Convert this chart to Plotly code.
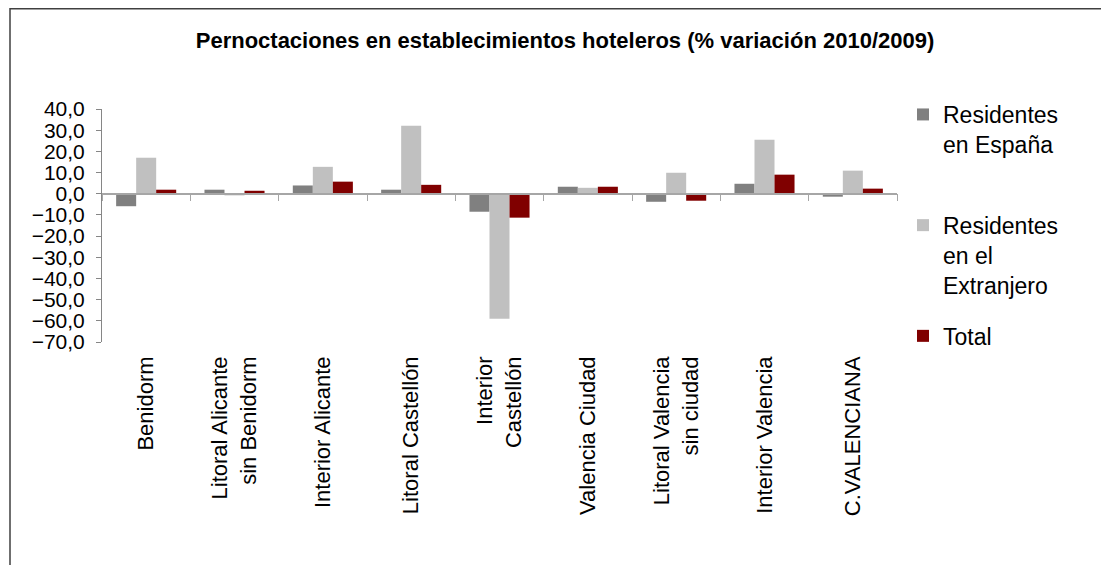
import plotly.graph_objects as go

categories = ["Benidorm", "Litoral Alicante<br>sin Benidorm", "Interior Alicante",
              "Litoral Castellón", "Interior<br>Castellón", "Valencia Ciudad",
              "Litoral Valencia<br>sin ciudad", "Interior Valencia", "C.VALENCIANA"]
residentes_espana = [-5.9, 1.9, 3.9, 1.9, -8.5, 3.3, -3.8, 4.7, -1.4]
residentes_extranjero = [17.0, -0.8, 12.7, 32.1, -59.0, 2.8, 9.9, 25.5, 10.9]
total = [1.9, 1.4, 5.7, 4.2, -11.3, 3.3, -3.3, 9.0, 2.4]
series_names = ["Residentes<br>en España<br>\u00a0", "Residentes<br>en el<br>Extranjero", "Total"]
series_colors = ["#808080", "#C0C0C0", "#800000"]
y_ticks = [40, 30, 20, 10, 0, -10, -20, -30, -40, -50, -60, -70]

# page has an 8px body margin: figure coordinates = page coordinates - 8
OFF = 8
W, H = 1109 - OFF, 565 - OFF
L, T = 102 - OFF, 109 - OFF
PR, PB = 897 - OFF, 342 - OFF
R, B = W - PR, H - PB
pw, ph = PR - L, PB - T

fig = go.Figure()
for name, vals, col, grp in zip(series_names,
                                [residentes_espana, residentes_extranjero, total],
                                series_colors, ["a", "b", "c"]):
    fig.add_trace(go.Bar(x=categories, y=vals, name=name, marker_color=col,
                         marker_line_width=0, legendgroup=grp))

# helper trace for the zero-line category axis
fig.add_trace(go.Scatter(x=categories, y=[0] * len(categories), xaxis="x2",
                         mode="none", showlegend=False, hoverinfo="skip"))

ymin, ymax = -70, 40
fig.update_layout(
    width=W, height=H,
    margin=dict(l=L, r=R, t=T, b=B, autoexpand=False),
    paper_bgcolor="white", plot_bgcolor="white",
    separators=",.",
    barmode="group", bargap=0.32, bargroupgap=0,
    font=dict(family="Liberation Sans, Arial, sans-serif", color="black"),
    title=dict(text="<b>Pernoctaciones en establecimientos hoteleros (% variación 2010/2009)</b>",
               x=(565 - OFF) / W, xanchor="center", y=1 - (40 - OFF) / H, yanchor="middle",
               font=dict(size=22, color="black")),
    xaxis=dict(categoryorder="array", categoryarray=categories, range=[-0.5, 8.5],
               showline=False, ticks="", tickangle=-90, tickfont=dict(size=22),
               ticklabelstandoff=9, showgrid=False, zeroline=False),
    xaxis2=dict(overlaying="x", anchor="free", position=(0 - ymin) / (ymax - ymin),
                categoryorder="array", categoryarray=categories, range=[-0.5, 8.5],
                showline=True, linecolor="#A6A6A6", linewidth=1.5,
                ticks="outside", ticklen=7, tickcolor="#A6A6A6", tickson="boundaries",
                showticklabels=False, showgrid=False, zeroline=False),
    yaxis=dict(range=[ymin, ymax], tickvals=y_ticks, tickformat=".1f",
               showline=True, linecolor="#868686", linewidth=1,
               ticks="outside", ticklen=5, tickcolor="#868686",
               tickfont=dict(size=21), ticklabelstandoff=7,
               showgrid=False, zeroline=False),
    legend=dict(x=(903 - OFF - L) / pw, xanchor="left",
                y=(PB - (93 - OFF)) / ph, yanchor="top",
                font=dict(size=23), valign="top", tracegroupgap=18,
                bgcolor="rgba(0,0,0,0)"),
    showlegend=True,
)

# outer chart frame
fig.add_shape(type="rect", xref="paper", yref="paper",
              x0=(10 - OFF - L) / pw, x1=(W + 20 - L) / pw,
              y0=-(B + 20) / ph, y1=(PB - 0.75) / ph,
              line=dict(color="#404040", width=1.5), fillcolor="rgba(0,0,0,0)", layer="below")

fig.write_html("out.html")
